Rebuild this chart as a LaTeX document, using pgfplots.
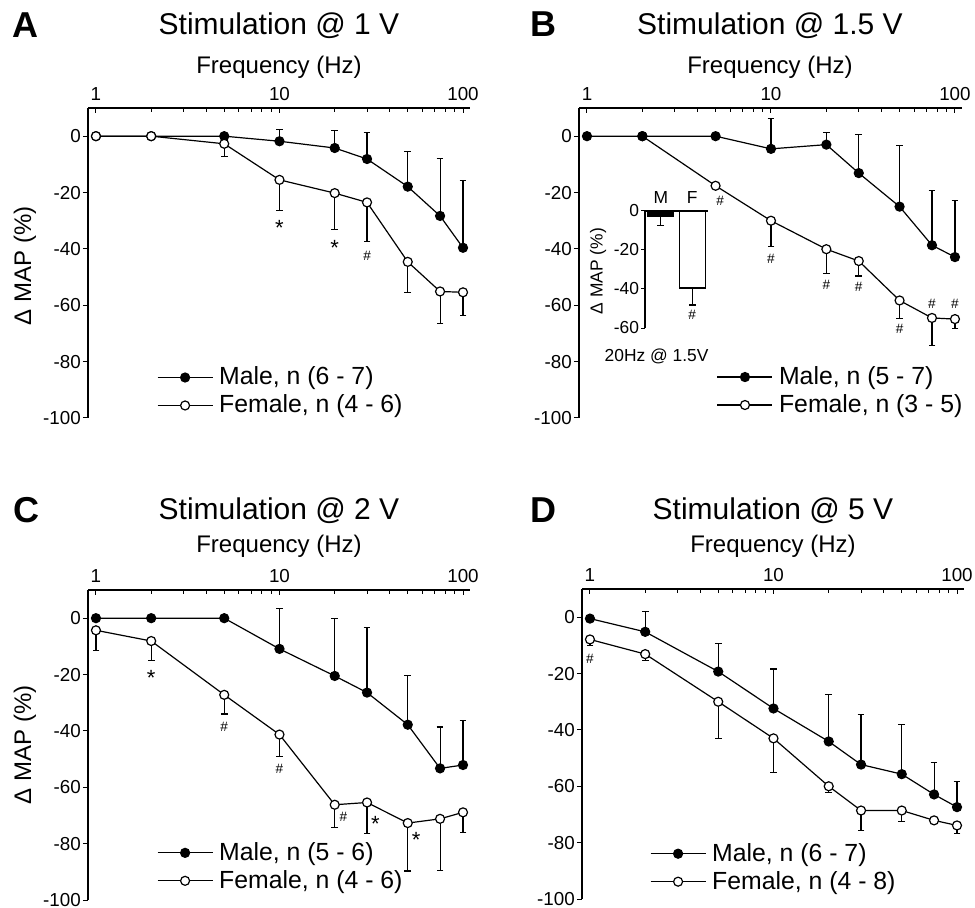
\documentclass[border=0pt]{standalone}
\usepackage{fontspec}
\setmainfont{Liberation Sans}
\usepackage{pgfplots}
\pgfplotsset{compat=1.18}
\newcommand\tickfont{\fontsize{9.4}{10}\selectfont}
\newcommand\smallfont{\fontsize{8.7}{9.5}\selectfont}
\tikzset{
  ann/.style={font=\fontsize{6.8}{7}\selectfont, inner sep=0pt},
  astk/.style={font=\fontsize{11}{12}\selectfont, inner sep=0pt},
}
\pgfplotsset{
  mbase/.style={black, line width=0.6pt, mark=*, mark size=2.25pt, mark options={solid, fill=black, draw=black, line width=0.6pt}},
  fbase/.style={black, line width=0.6pt, mark=*, mark size=2.25pt, mark options={solid, fill=white, draw=black, line width=0.6pt}},
  male/.style={mbase, error bars/y dir=plus, error bars/y explicit, error bars/error bar style={line width=0.55pt, solid}, error bars/error mark options={rotate=90, line width=0.55pt, mark size=1.7pt}},
  female/.style={fbase, error bars/y dir=minus, error bars/y explicit, error bars/error bar style={line width=0.55pt, solid}, error bars/error mark options={rotate=90, line width=0.55pt, mark size=1.7pt}},
}
\pgfplotsset{legend image code/.code={\draw[mark repeat=2, mark phase=2, #1] plot coordinates {(0pt,0pt) (13.75pt,0pt) (27.5pt,0pt)};}}
\begin{document}
\begin{tikzpicture}
\useasboundingbox (0,0) rectangle (487.5pt,-454pt);

% ---------------- Panel A ----------------
\begin{axis}[anchor=north west, at={(44pt,-54pt)}, scale only axis, width=191pt, height=155pt,
    xmode=log, xmin=0.905, xmax=109.2, ymin=-100, ymax=10,
    axis x line*=top, axis y line*=left,
    axis line style={-, line width=0.6pt},
    xtick={1,10,100}, xticklabels={1,10,100},
    minor xtick={2,3,4,5,6,7,8,9,20,30,40,50,60,70,80,90},
    ytick={-100,-80,-60,-40,-20,0}, yticklabels={-100,-80,-60,-40,-20,0},
    xtick align=inside, ytick align=outside,
    major tick length=2.6pt, minor tick length=1.8pt,
    tick style={black, line width=0.5pt},
    tick label style={font=\tickfont}, yticklabel style={inner sep=0.8pt},
    clip=false, legend cell align=left,
    legend style={draw=none, fill=none, anchor=west, inner sep=0pt, outer sep=0pt,
      font=\fontsize{12.4}{13}\selectfont, nodes={inner sep=1pt}, row sep=1.5pt, column sep=2pt, at={(0.1806,0.0855)}}]
\addplot[male] coordinates {(1,0) +- (0,0) (2,0) +- (0,0) (5,0) +- (0,0) (10,-1.8) +- (0,4.2) (20,-4.2) +- (0,6.2) (30,-8.1) +- (0,9.5) (50,-17.9) +- (0,12.5) (75,-28.3) +- (0,20.3) (100,-39.6) +- (0,24)};
\addlegendentry{Male, n (6 - 7)}
\addplot[female] coordinates {(1,0) +- (0,0) (2,0) +- (0,0) (5,-2.7) +- (0,4.4) (10,-15.5) +- (0,11) (20,-20.2) +- (0,12.8) (30,-23.5) +- (0,13.8) (50,-44.6) +- (0,11) (75,-55.1) +- (0,11.3) (100,-55.4) +- (0,8.3)};
\addlegendentry{Female, n (4 - 6)}
\node[astk] at (axis cs:10,-32.7) {*};
\node[astk] at (axis cs:20,-39.7) {*};
\node[ann] at (axis cs:30,-42.3) {\#};
\end{axis}

% ---------------- Panel B ----------------
\begin{axis}[anchor=north west, at={(289.5pt,-54pt)}, scale only axis, width=191.5pt, height=155pt,
    xmode=log, xmin=0.905, xmax=109.2, ymin=-100, ymax=10,
    axis x line*=top, axis y line*=left,
    axis line style={-, line width=0.6pt},
    xtick={1,10,100}, xticklabels={1,10,100},
    minor xtick={2,3,4,5,6,7,8,9,20,30,40,50,60,70,80,90},
    ytick={-100,-80,-60,-40,-20,0}, yticklabels={-100,-80,-60,-40,-20,0},
    xtick align=inside, ytick align=outside,
    major tick length=2.6pt, minor tick length=1.8pt,
    tick style={black, line width=0.5pt},
    tick label style={font=\tickfont}, yticklabel style={inner sep=0.8pt},
    clip=false, legend cell align=left,
    legend style={draw=none, fill=none, anchor=west, inner sep=0pt, outer sep=0pt,
      font=\fontsize{12.4}{13}\selectfont, nodes={inner sep=1pt}, row sep=1.5pt, column sep=2pt, at={(0.360,0.087)}}]
\addplot[female, forget plot] coordinates {(2,0) +- (0,0) (5,-17.6) +- (0,0) (10,-30) +- (0,9.3) (20,-40.1) +- (0,8.7) (30,-44.3) +- (0,5.3) (50,-58.3) +- (0,6.3) (75,-64.5) +- (0,9.9) (100,-64.9) +- (0,3.2)};
\addplot[male] coordinates {(1,0) +- (0,0) (2,0) +- (0,0) (5,0) +- (0,0) (10,-4.5) +- (0,10.8) (20,-3) +- (0,4.3) (30,-13.1) +- (0,13.7) (50,-25) +- (0,21.8) (75,-38.7) +- (0,19.3) (100,-42.9) +- (0,20)};
\addlegendentry{Male, n (5 - 7)}
\addlegendimage{fbase}
\addlegendentry{Female, n (3 - 5)}
\node[ann] at (axis cs:5.3,-23) {\#};
\node[ann] at (axis cs:10,-43.7) {\#};
\node[ann] at (axis cs:20,-52.7) {\#};
\node[ann] at (axis cs:30,-53.6) {\#};
\node[ann] at (axis cs:50,-68.5) {\#};
\node[ann] at (axis cs:75,-59.5) {\#};
\node[ann] at (axis cs:100,-59.5) {\#};
\end{axis}

% inset
\begin{axis}[at={(322.5pt,-105.5pt)}, anchor=north west, scale only axis,
  width=31.5pt, height=58.5pt, xmin=0.5, xmax=2.5, ymin=-60, ymax=0,
  axis x line*=top, axis y line*=left, axis line style={-, line width=0.6pt},
  xtick={1,2}, xticklabels={M,F}, major x tick style={draw=none},
  ytick={-60,-40,-20,0}, yticklabels={-60,-40,-20,0},
  ytick align=outside, major tick length=2pt,
  tick style={black, line width=0.5pt},
  tick label style={font=\smallfont}, yticklabel style={inner sep=0.8pt},
  clip=false]
\addplot[ybar, bar width=13pt, bar shift=0pt, fill=black, draw=black, line width=0.6pt,
  error bars/y dir=minus, error bars/y explicit, error bars/error bar style={line width=0.55pt}, error bars/error mark options={rotate=90, line width=0.55pt, mark size=1.7pt}]
  coordinates {(1,-3) +- (0,4.5)};
\addplot[ybar, bar width=13pt, bar shift=0pt, fill=white, draw=black, line width=0.6pt,
  error bars/y dir=minus, error bars/y explicit, error bars/error bar style={line width=0.55pt}, error bars/error mark options={rotate=90, line width=0.55pt, mark size=1.7pt}]
  coordinates {(2,-39.5) +- (0,8.7)};
\node[ann] at (axis cs:2,-53) {\#};
\end{axis}
\node[font=\smallfont, rotate=90] at (299pt,-135.5pt) {Δ MAP (\%)};
\node[font=\smallfont, anchor=base] at (328.3pt,-181pt) {20Hz @ 1.5V};

% ---------------- Panel C ----------------
\begin{axis}[anchor=north west, at={(44pt,-295pt)}, scale only axis, width=191pt, height=155pt,
    xmode=log, xmin=0.905, xmax=109.2, ymin=-100, ymax=10,
    axis x line*=top, axis y line*=left,
    axis line style={-, line width=0.6pt},
    xtick={1,10,100}, xticklabels={1,10,100},
    minor xtick={2,3,4,5,6,7,8,9,20,30,40,50,60,70,80,90},
    ytick={-100,-80,-60,-40,-20,0}, yticklabels={-100,-80,-60,-40,-20,0},
    xtick align=inside, ytick align=outside,
    major tick length=2.6pt, minor tick length=1.8pt,
    tick style={black, line width=0.5pt},
    tick label style={font=\tickfont}, yticklabel style={inner sep=0.8pt},
    clip=false, legend cell align=left,
    legend style={draw=none, fill=none, anchor=west, inner sep=0pt, outer sep=0pt,
      font=\fontsize{12.4}{13}\selectfont, nodes={inner sep=1pt}, row sep=1.5pt, column sep=2pt, at={(0.1806,0.107)}}]
\addplot[male] coordinates {(1,0) +- (0,0) (2,0) +- (0,0) (5,0) +- (0,0) (10,-10.9) +- (0,14.2) (20,-20.5) +- (0,20.5) (30,-26.4) +- (0,23) (50,-37.8) +- (0,17.5) (75,-53.3) +- (0,14.7) (100,-52.1) +- (0,15.8)};
\addlegendentry{Male, n (5 - 6)}
\addplot[female] coordinates {(1,-4.3) +- (0,7.1) (2,-8.1) +- (0,7) (5,-27.2) +- (0,6.8) (10,-41.3) +- (0,7.9) (20,-66.2) +- (0,8.2) (30,-65.4) +- (0,11.1) (50,-72.7) +- (0,17) (75,-71.2) +- (0,18.2) (100,-68.9) +- (0,7)};
\addlegendentry{Female, n (4 - 6)}
\node[astk] at (axis cs:2,-21.3) {*};
\node[ann] at (axis cs:5,-38.4) {\#};
\node[ann] at (axis cs:10,-53.6) {\#};
\node[ann] at (axis cs:22.3,-70.4) {\#};
\node[astk] at (axis cs:33.3,-72.9) {*};
\node[astk] at (axis cs:55.5,-78.8) {*};
\end{axis}

% ---------------- Panel D ----------------
\begin{axis}[anchor=north west, at={(291pt,-294.5pt)}, scale only axis, width=191pt, height=155pt,
    xmode=log, xmin=0.905, xmax=109.2, ymin=-100, ymax=10,
    axis x line*=top, axis y line*=left,
    axis line style={-, line width=0.6pt},
    xtick={1,10,100}, xticklabels={1,10,100},
    minor xtick={2,3,4,5,6,7,8,9,20,30,40,50,60,70,80,90},
    ytick={-100,-80,-60,-40,-20,0}, yticklabels={-100,-80,-60,-40,-20,0},
    xtick align=inside, ytick align=outside,
    major tick length=2.6pt, minor tick length=1.8pt,
    tick style={black, line width=0.5pt},
    tick label style={font=\tickfont}, yticklabel style={inner sep=0.8pt},
    clip=false, legend cell align=left,
    legend style={draw=none, fill=none, anchor=west, inner sep=0pt, outer sep=0pt,
      font=\fontsize{12.4}{13}\selectfont, nodes={inner sep=1pt}, row sep=1.5pt, column sep=2pt, at={(0.178,0.101)}}]
\addplot[male] coordinates {(1,-0.5) +- (0,0) (2,-5.2) +- (0,7.3) (5,-19.3) +- (0,10) (10,-32.4) +- (0,14) (20,-44.1) +- (0,16.7) (30,-52.3) +- (0,17.9) (50,-55.7) +- (0,17.5) (75,-62.9) +- (0,11.2) (100,-67.4) +- (0,9.1)};
\addlegendentry{Male, n (6 - 7)}
\addplot[female] coordinates {(1,-7.9) +- (0,2.3) (2,-13.1) +- (0,2.4) (5,-30) +- (0,13.2) (10,-43) +- (0,12) (20,-60) +- (0,2.1) (30,-68.6) +- (0,7) (50,-68.6) +- (0,3.8) (75,-72.1) +- (0,0) (100,-73.9) +- (0,2.7)};
\addlegendentry{Female, n (4 - 8)}
\node[ann] at (axis cs:1,-14.7) {\#};
\end{axis}

% ---------------- Titles and labels ----------------
\node[font=\fontsize{18}{20}\selectfont\bfseries, anchor=base west, inner sep=0pt] at (6pt,-19pt) {A};
\node[font=\fontsize{18}{20}\selectfont\bfseries, anchor=base west, inner sep=0pt] at (265pt,-18.5pt) {B};
\node[font=\fontsize{18}{20}\selectfont\bfseries, anchor=base west, inner sep=0pt] at (6.5pt,-261.5pt) {C};
\node[font=\fontsize{18}{20}\selectfont\bfseries, anchor=base west, inner sep=0pt] at (265pt,-261.5pt) {D};

\node[font=\fontsize{15}{17}\selectfont, anchor=base] at (139.5pt,-17.5pt) {Stimulation @ 1 V};
\node[font=\fontsize{15}{17}\selectfont, anchor=base] at (385pt,-17.5pt) {Stimulation @ 1.5 V};
\node[font=\fontsize{15}{17}\selectfont, anchor=base] at (139.5pt,-260pt) {Stimulation @ 2 V};
\node[font=\fontsize{15}{17}\selectfont, anchor=base] at (386.5pt,-260pt) {Stimulation @ 5 V};

\node[font=\fontsize{12}{13}\selectfont, anchor=base] at (139.5pt,-37pt) {Frequency (Hz)};
\node[font=\fontsize{12}{13}\selectfont, anchor=base] at (385pt,-37pt) {Frequency (Hz)};
\node[font=\fontsize{12}{13}\selectfont, anchor=base] at (139.5pt,-276.5pt) {Frequency (Hz)};
\node[font=\fontsize{12}{13}\selectfont, anchor=base] at (386.5pt,-276.5pt) {Frequency (Hz)};

\node[font=\fontsize{12}{13}\selectfont, rotate=90] at (12.5pt,-133pt) {Δ MAP (\%)};
\node[font=\fontsize{12}{13}\selectfont, rotate=90] at (12.5pt,-372.5pt) {Δ MAP (\%)};
\end{tikzpicture}
\end{document}
